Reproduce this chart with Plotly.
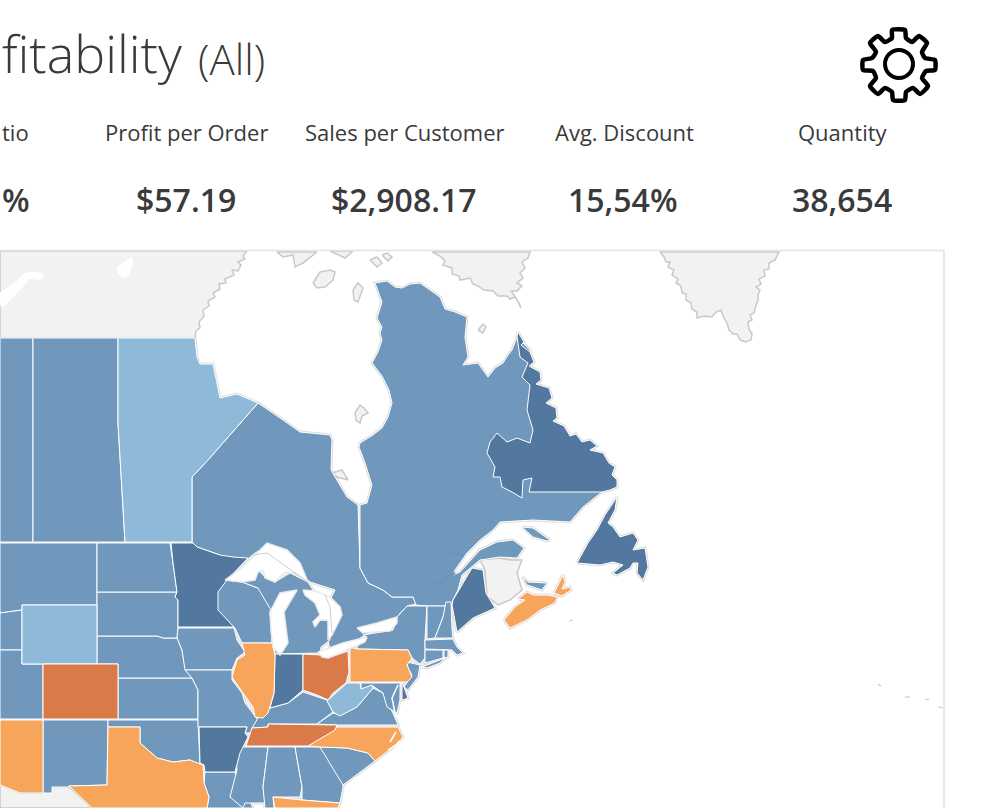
import plotly.graph_objects as go

# kpi strip, only what the crop shows of the first one
kpi_labels = ["tio", "Profit per Order", "Sales per Customer", "Avg. Discount", "Quantity"]
kpi_values = ["%", "$57.19", "$2,908.17", "15,54%", "38,654"]

# map outlines, in map units of the crop (x to the right, y down)
gray_land = {
    "north": [(0,251),(247,251),(243,256),(245,259),(238,262),(241,265),(238,271),(232,270),(234,275),(225,279),(226,283),(219,284),(220,289),(213,293),(215,297),(208,301),(209,306),(203,310),(204,316),(199,322),(200,328),(196,331),(195,338),(0,338)],
    "baffin": [(432,252),(440,256),(445,261),(443,265),(452,268),(452,274),(459,276),(460,280),(470,278),(473,284),(478,286),(484,290),(493,291),(498,296),(507,296),(510,299),(515,297),(519,303),(521,308),(516,298),(511,291),(517,291),(522,286),(517,283),(523,278),(520,273),(525,268),(522,262),(528,258),(530,252)],
    "greenland": [(660,252),(664,257),(666,262),(670,262),(668,267),(674,270),(672,275),(678,279),(676,283),(681,286),(682,293),(686,294),(686,300),(691,303),(692,309),(697,312),(697,318),(704,316),(712,317),(716,312),(721,310),(724,318),(727,323),(729,330),(733,334),(737,334),(740,340),(745,342),(751,340),(752,334),(749,329),(748,322),(752,320),(750,315),(754,313),(756,305),(758,301),(758,295),(760,290),(756,287),(761,284),(759,279),(765,276),(764,270),(769,269),(769,263),(775,260),(779,252)],
    "island_a": [(277,252),(283,257),(293,255),(295,267),(303,263),(317,252)],
    "island_a2": [(330,251),(345,258),(353,251)],
    "island_b": [(313,283),(320,272),(330,270),(335,272),(333,280),(325,287),(317,288)],
    "island_c": [(370,260),(377,257),(382,263),(377,267)],
    "island_d": [(382,255),(387,253),(392,257),(388,261)],
    "island_e": [(353,290),(358,283),(363,288),(358,302),(354,300)],
    "island_f": [(478,330),(483,324),(486,327),(483,333)],
    "akimiski": [(332,473),(342,470),(348,480),(337,477)],
    "belcher": [(355,413),(360,405),(364,408),(368,413),(362,416),(360,423),(356,420)],
    "mexico": [(0,785),(20,793),(43,793),(52,787),(69,787),(92,808),(0,808)],
    "new_brunswick": [(480,560),(500,558),(510,560),(522,560),(517,573),(522,590),(510,600),(498,605),(487,596),(485,570)],
}

alberta = [(0,338),(33,338),(33,542),(0,542)]
saskatchewan = [(33,338),(118,338),(118,423),(125,542),(33,542)]
manitoba = [(118,338),(195,338),(197,357),(200,364),(213,364),(220,398),(237,394),(258,403),(208,460),(192,477),(192,542),(125,542),(118,423)]
ontario = [(192,477),(208,460),(258,403),(273,413),(283,420),(300,432),(330,435),(332,440),(331,470),(338,482),(347,497),(358,505),(360,568),(368,583),(383,590),(392,597),(413,597),(416,604),(407,606),(397,617),(393,625),(365,635),(350,645),(330,650),(325,625),(320,620),(335,590),(310,582),(290,565),(270,545),(255,553),(225,578),(220,555),(197,547),(193,543),(192,542)]
quebec = [(360,505),(367,503),(372,485),(365,463),(359,447),(360,443),(373,435),(382,428),(388,417),(392,403),(389,390),(382,376),(372,363),(378,352),(382,340),(380,333),(382,327),(377,318),(382,302),(378,292),(375,283),(387,281),(395,287),(402,288),(410,284),(420,283),(430,290),(440,297),(445,309),(455,312),(467,317),(465,337),(468,357),(463,365),(478,363),(488,377),(495,368),(503,363),(508,355),(512,350),(517,337),(530,350),(533,380),(540,440),(580,480),(602,492),(583,507),(570,522),(533,520),(500,522),(493,530),(480,540),(467,553),(455,570),(453,575),(460,572),(480,550),(497,542),(513,540),(524,548),(517,558),(500,557),(480,560),(472,567),(462,575),(458,590),(453,600),(451,606),(427,606),(416,605),(413,597),(392,597),(383,590),(368,583),(360,568)]
labrador = [(518,332),(524,342),(521,345),(530,352),(534,362),(529,366),(540,372),(541,380),(536,384),(549,388),(552,398),(546,403),(556,408),(557,418),(553,421),(564,426),(570,436),(576,434),(582,442),(590,440),(597,446),(590,450),(603,453),(609,463),(615,467),(612,475),(617,480),(617,487),(610,490),(602,492),(529,492),(532,478),(523,480),(522,498),(512,492),(502,487),(500,477),(493,477),(495,467),(487,453),(490,442),(497,433),(507,442),(517,438),(530,443),(533,430),(527,410),(530,385),(522,377),(528,363),(520,357),(517,337)]
newfoundland = [(577,563),(588,543),(597,530),(605,515),(617,497),(615,510),(608,523),(613,527),(620,537),(633,533),(638,540),(633,550),(645,548),(648,567),(643,580),(637,573),(638,563),(633,563),(630,568),(617,575),(613,573),(623,565),(613,562),(600,565)]
nova_scotia = [(504,620),(515,607),(525,600),(518,599),(527,592),(533,595),(547,595),(557,597),(555,603),(540,610),(527,620),(510,628)]
cape_breton = [(554,593),(563,575),(565,582),(562,589),(570,587),(571,590),(562,596)]
pei = [(522,577),(528,582),(547,583),(542,590),(527,585)]
anticosti = [(522,527),(533,528),(550,540),(547,541),(533,537)]

montana = [(0,543),(97,543),(97,605),(22,605),(22,610),(0,613)]
idaho = [(0,613),(22,610),(22,650),(0,650)]
wyoming = [(22,605),(97,605),(97,664),(22,664)]
utah = [(0,650),(22,650),(22,664),(43,664),(43,719),(0,719)]
colorado = [(43,664),(118,664),(118,719),(43,719)]
arizona = [(0,720),(43,720),(43,793),(20,793),(0,785)]
new_mexico = [(43,720),(108,720),(107,785),(69,786),(68,787),(52,787),(52,793),(43,793)]
texas = [(108,727),(140,727),(140,743),(157,758),(173,762),(190,760),(203,765),(204,783),(209,797),(207,808),(92,808),(69,786),(107,785)]
oklahoma = [(108,720),(198,720),(200,765),(190,760),(173,762),(157,758),(140,743),(140,727),(108,727)]
kansas = [(118,678),(192,678),(198,690),(198,719),(118,719)]
nebraska = [(97,636),(157,636),(163,638),(177,638),(182,650),(185,667),(192,678),(118,678),(118,664),(97,664)]
south_dakota = [(97,592),(177,592),(175,597),(178,600),(178,628),(177,638),(163,638),(157,636),(97,636)]
north_dakota = [(97,543),(170,543),(173,563),(177,592),(97,592)]
minnesota = [(171,543),(193,543),(197,547),(220,555),(233,557),(248,558),(227,580),(218,592),(218,610),(234,627),(178,627),(178,600),(175,597),(177,592),(173,563)]
iowa = [(178,628),(234,628),(237,640),(245,652),(237,658),(232,670),(185,670),(182,650),(177,638)]
missouri = [(185,670),(232,670),(232,680),(242,693),(245,703),(255,717),(258,720),(253,733),(245,733),(247,727),(198,727),(198,690),(192,678)]
arkansas = [(199,727),(247,727),(245,733),(248,737),(240,753),(235,772),(205,772),(204,765),(200,763)]
louisiana = [(205,772),(235,772),(237,783),(230,797),(248,797),(253,808),(207,808),(209,797),(204,783)]
mississippi = [(240,747),(268,747),(263,787),(265,803),(245,803),(243,808),(230,797),(237,770),(236,760)]
alabama = [(268,747),(295,747),(302,787),(300,797),(273,797),(274,808),(265,808),(263,787)]
georgia = [(295,747),(320,747),(343,780),(343,787),(340,803),(302,800),(302,787)]
south_carolina = [(320,747),(347,748),(368,753),(375,761),(343,785)]
florida = [(273,797),(302,800),(340,803),(338,808),(275,808)]
north_carolina = [(308,746),(337,727),(398,727),(403,737),(392,748),(375,761),(368,753),(347,748),(320,747)]
tennessee = [(252,728),(268,727),(268,724),(337,725),(335,730),(323,737),(308,746),(246,746)]
kentucky = [(258,718),(270,708),(288,703),(303,692),(327,700),(333,712),(317,724),(268,724),(268,727),(252,728)]
virginia = [(317,724),(333,713),(340,715),(357,707),(373,688),(383,693),(387,703),(393,713),(398,725),(337,725)]
west_virginia = [(327,701),(347,683),(360,683),(361,689),(372,685),(373,688),(357,707),(340,716),(333,712)]
maryland = [(361,683),(400,683),(400,700),(397,713),(387,707),(383,693),(373,686),(361,689)]
delaware = [(402,682),(408,698),(403,700),(402,699)]
new_jersey = [(407,662),(420,665),(418,677),(408,690),(404,687),(412,675),(408,668)]
pennsylvania = [(350,647),(357,649),(408,650),(412,658),(407,665),(412,677),(407,682),(350,682)]
new_york = [(357,649),(408,650),(412,658),(420,664),(425,658),(425,639),(427,606),(407,606),(397,617),(393,630),(363,635),(367,637),(357,647)]
long_island = [(422,667),(445,658),(440,663),(427,668)]
vermont = [(427,606),(446,606),(443,617),(435,638),(427,639)]
new_hampshire = [(446,602),(451,602),(452,630),(453,638),(435,638),(443,617)]
massachusetts = [(425,640),(453,639),(457,647),(463,653),(457,655),(452,650),(425,649)]
connecticut = [(425,650),(443,650),(443,658),(425,663)]
rhode_island = [(444,650),(448,650),(448,657),(444,658)]
maine = [(472,568),(483,570),(486,593),(493,605),(495,608),(473,618),(457,632),(452,605),(453,600)]
wisconsin = [(225,580),(242,582),(258,588),(272,603),(270,612),(272,643),(242,643),(235,628),(217,610),(217,593),(223,582)]
michigan = [(242,582),(258,570),(265,577),(275,582),(290,573),(308,582),(313,590),(320,610),(320,620),(328,620),(330,640),(321,647),(320,653),(275,654),(272,612),(258,588)]
illinois = [(242,643),(272,643),(275,655),(274,693),(268,713),(263,718),(255,717),(253,707),(243,693),(232,677),(237,660),(245,655)]
indiana = [(275,654),(303,654),(303,690),(288,703),(270,708),(274,693)]
ohio = [(303,654),(320,655),(328,658),(348,651),(349,672),(346,683),(333,693),(328,700),(317,695),(303,690)]

superior = [(225,580),(243,567),(253,557),(267,543),(287,550),(300,563),(308,582),(295,573),(285,572),(275,582),(265,578),(263,570),(258,572),(255,580),(242,582)]
lake_michigan = [(270,612),(280,593),(297,590),(292,598),(284,612),(288,643),(280,655),(273,647),(271,630)]
huron = [(303,590),(315,591),(330,597),(340,607),(342,615),(335,628),(332,635),(328,640),(328,620),(320,620),(315,627),(313,622),(320,615),(315,603),(305,595)]
erie = [(318,652),(343,643),(367,637),(365,642),(347,650),(328,658),(322,657)]
lake_ontario = [(357,628),(377,623),(397,617),(397,623),(390,631),(363,633)]
lakes_north = [(0,293),(15,282),(25,273),(37,272),(45,275),(40,280),(30,278),(20,290),(3,307),(0,305)]
lake_athabasca = [(117,267),(132,257),(133,263),(128,277),(123,278),(118,273)]

blue_mid = [alberta, saskatchewan, ontario, quebec, pei, anticosti, montana, idaho, utah, new_mexico, oklahoma, kansas, nebraska,
            south_dakota, north_dakota, iowa, missouri, louisiana, mississippi, alabama, georgia, south_carolina, kentucky,
            virginia, maryland, new_jersey, new_york, long_island, vermont, new_hampshire, massachusetts, connecticut,
            rhode_island, wisconsin, michigan]
blue_dark = [labrador, newfoundland, minnesota, arkansas, indiana, maine, delaware]
blue_light = [manitoba, wyoming, west_virginia]
orange_light = [nova_scotia, cape_breton, arizona, texas, florida, north_carolina, illinois, pennsylvania]
orange_dark = [colorado, tennessee, ohio]
lakes = [superior, lake_michigan, huron, erie, lake_ontario]
north_holes = [lakes_north, lake_athabasca]

lake_borders = [[(253,555),(267,553),(308,582)], [(325,595),(330,607),(332,633)]]
small_isles = [[(878,684),(881,686)], [(905,697),(910,697)], [(925,700),(929,699)], [(938,707),(943,708)], [(569,621),(573,620)]]
rivers = [[(428,589),(442,580),(455,573)], [(450,552),(463,556)]]
inlets = [[(398,685),(392,698),(396,718)], [(396,732),(390,742)], [(400,742),(388,750)]]

gear_outline = [(892,30),(905,30),(906,38),(912,42),(919,36),(927,43),(922,52),(925,58),(935,60),(935,70),(926,71),(922,78),(928,86),(920,94),(913,88),(906,92),(905,100),(893,100),(892,92),(885,88),(878,94),(870,86),(876,78),(873,71),(863,70),(863,60),(872,58),(876,52),(870,43),(878,36),(885,42),(892,38),(892,30)]
gear_hub = [(899, 64)]


def xy(points):
    return [p[0] for p in points], [p[1] for p in points]


def closed(points):
    return points + [points[0]]


fig = go.Figure()

# pale coast halo first, so only the part outside the land stays visible
halo_x, halo_y = [], []
for group in [blue_mid, blue_dark, blue_light, orange_light, orange_dark]:
    for shape in group:
        x, y = xy(closed(shape))
        halo_x += x + [None]
        halo_y += y + [None]
fig.add_trace(go.Scatter(x=halo_x, y=halo_y, mode="lines", line=dict(color="#DEDEDE", width=3), hoverinfo="skip"))

for name, shape in gray_land.items():
    x, y = xy(closed(shape))
    fig.add_trace(go.Scatter(x=x, y=y, mode="lines", fill="toself", fillcolor="#F2F2F2",
                             line=dict(color="#C9C9C9", width=1.5), hoverinfo="skip"))

for group, color in [(blue_mid, "#7097BC"), (blue_dark, "#53789F"), (blue_light, "#8FB9D9"),
                     (orange_light, "#F6A55B"), (orange_dark, "#DA7A48")]:
    for shape in group:
        x, y = xy(closed(shape))
        fig.add_trace(go.Scatter(x=x, y=y, mode="lines", fill="toself", fillcolor=color,
                                 line=dict(color="#FFFFFF", width=1), hoverinfo="skip"))

for shape in lakes:
    x, y = xy(closed(shape))
    fig.add_trace(go.Scatter(x=x, y=y, mode="lines", fill="toself", fillcolor="#FFFFFF",
                             line=dict(color="#EBEBEB", width=1.5), hoverinfo="skip"))
for shape in north_holes:
    x, y = xy(closed(shape))
    fig.add_trace(go.Scatter(x=x, y=y, mode="lines", fill="toself", fillcolor="#FFFFFF",
                             line=dict(color="#FFFFFF", width=0.5), hoverinfo="skip"))

for seg in lake_borders:
    x, y = xy(seg)
    fig.add_trace(go.Scatter(x=x, y=y, mode="lines", line=dict(color="#CFCFCF", width=1), hoverinfo="skip"))
for seg in small_isles:
    x, y = xy(seg)
    fig.add_trace(go.Scatter(x=x, y=y, mode="lines", line=dict(color="#C9C9C9", width=1.2), hoverinfo="skip"))
for seg in rivers:
    x, y = xy(seg)
    fig.add_trace(go.Scatter(x=x, y=y, mode="lines", line=dict(color="#6C93B8", width=2), hoverinfo="skip"))
for seg in inlets:
    x, y = xy(seg)
    fig.add_trace(go.Scatter(x=x, y=y, mode="lines", line=dict(color="#FFFFFF", width=1.5), hoverinfo="skip"))

# settings icon
x, y = xy(gear_outline)
fig.add_trace(go.Scatter(x=x, y=y, mode="lines", line=dict(color="#000000", width=4.5, shape="spline", smoothing=0.5), hoverinfo="skip"))
x, y = xy(gear_hub)
fig.add_trace(go.Scatter(x=x, y=y, mode="markers", hoverinfo="skip",
                         marker=dict(symbol="circle-open", size=28, color="#000000", line=dict(color="#000000", width=4))))

# frame of the map
fig.add_trace(go.Scatter(x=[0, 944, 944], y=[250.5, 250.5, 808], mode="lines", line=dict(color="#E3E3E3", width=1.5), hoverinfo="skip"))

font = "Open Sans"
ink = "#3A3A3A"
fig.add_annotation(x=184, y=52, text="fitability", xref="x", yref="y", xanchor="right", yanchor="middle", showarrow=False,
                   font=dict(family=font, size=52, color=ink, weight=300))
fig.add_annotation(x=196, y=58, text="(All)", xref="x", yref="y", xanchor="left", yanchor="middle", showarrow=False,
                   font=dict(family=font, size=42, color=ink, weight=300))

label_x = [0, 186, 405, 624, 843]
anchors = ["left", "center", "center", "center", "center"]
value_x = [0, 186, 404, 623, 842]
for lab, val, lx, vx, anc in zip(kpi_labels, kpi_values, label_x, value_x, anchors):
    fig.add_annotation(x=lx, y=132, text=lab, xref="x", yref="y", xanchor=anc, yanchor="middle", showarrow=False,
                       font=dict(family=font, size=22, color=ink))
    fig.add_annotation(x=vx, y=199, text=val, xref="x", yref="y", xanchor=anc, yanchor="middle", showarrow=False,
                       font=dict(family=font, size=32, color=ink, weight=600))

fig.update_layout(width=984, height=808, margin=dict(l=0, r=0, t=0, b=0), showlegend=False,
                  paper_bgcolor="#FFFFFF", plot_bgcolor="#FFFFFF")
fig.update_xaxes(range=[0, 984], visible=False, fixedrange=True)
fig.update_yaxes(range=[808, 0], visible=False, fixedrange=True)

fig.write_html("out.html", post_script="document.body.style.margin='0';", config={"displayModeBar": False})
